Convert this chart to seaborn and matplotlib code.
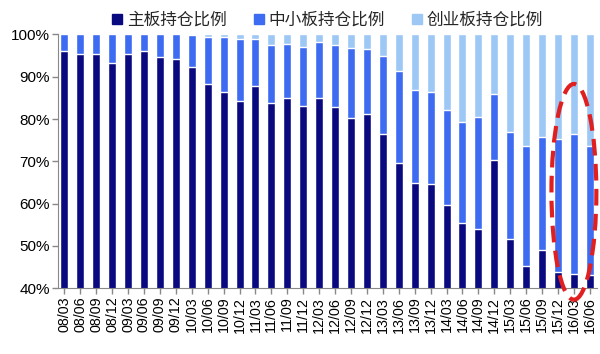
import pandas as pd
import matplotlib.pyplot as plt
import numpy as np
import seaborn as sns
from matplotlib.patches import Ellipse, Patch

quarters = ["08/03", "08/06", "08/09", "08/12", "09/03", "09/06", "09/09", "09/12",
            "10/03", "10/06", "10/09", "10/12", "11/03", "11/06", "11/09", "11/12",
            "12/03", "12/06", "12/09", "12/12", "13/03", "13/06", "13/09", "13/12",
            "14/03", "14/06", "14/09", "14/12", "15/03", "15/06", "15/09", "15/12",
            "16/03", "16/06"]
main_board = [96.2, 95.5, 95.3, 93.2, 95.5, 96.2, 94.7, 94.3, 92.3, 88.4, 86.3, 84.2,
              87.8, 83.7, 85.1, 83.2, 85.1, 82.9, 80.3, 81.2, 76.5, 69.6, 64.9, 64.7,
              59.8, 55.4, 54.0, 70.3, 51.7, 45.2, 49.0, 43.8, 43.3, 43.2]
sme_board = [3.8, 4.5, 4.7, 6.8, 4.5, 3.8, 5.3, 5.7, 7.5, 11.1, 13.2, 14.7,
             11.1, 13.8, 12.7, 13.9, 13.1, 14.6, 16.6, 15.3, 18.3, 21.7, 21.9, 21.6,
             22.4, 23.9, 26.5, 15.7, 25.3, 28.5, 26.7, 31.6, 33.1, 30.5]
chinext = [0, 0, 0, 0, 0, 0, 0, 0, 0.2, 0.5, 0.5, 1.1,
           1.1, 2.5, 2.2, 2.9, 1.8, 2.5, 3.1, 3.5, 5.2, 8.7, 13.2, 13.7,
           17.8, 20.7, 19.5, 14.0, 23.0, 26.3, 24.3, 24.6, 23.6, 26.3]
labels = ["主板持仓比例", "中小板持仓比例", "创业板持仓比例"]
colors = ["#0A0A80", "#3D6CF2", "#9DC8F6"]

df = pd.DataFrame({"q": quarters, "main": main_board, "sme": sme_board, "gem": chinext})
df["lvl1"] = df["main"]
df["lvl2"] = df["main"] + df["sme"]
df["lvl3"] = df["lvl2"] + df["gem"]

sns.set_style("white")
plt.rcParams['font.family'] = ['Liberation Sans', 'Noto Sans CJK SC', 'DejaVu Sans']

fig = plt.figure(figsize=(6, 3.54), dpi=100)
ax = fig.add_axes([58 / 600, 0.1856, 539 / 600, 0.717])

# stacked look: draw the cumulative totals from tallest to shortest
for col, c in zip(["lvl3", "lvl2", "lvl1"], colors[::-1]):
    sns.barplot(data=df, x="q", y=col, color=c, width=0.5, saturation=1, ax=ax)

ax.set_ylim(40, 100)
ax.set_xlim(-0.4, 33.45)
ax.set_yticks(np.arange(40, 101, 10))
ax.set_yticklabels([f"{v}%" for v in range(40, 101, 10)], fontsize=11)
ax.set_xticks(range(len(quarters)))
ax.set_xticklabels(quarters, rotation=90, fontsize=10.3)
ax.set_xlabel("")
ax.set_ylabel("")
for s in ["top", "right"]:
    ax.spines[s].set_visible(False)
for s in ["left", "bottom"]:
    ax.spines[s].set_color("#888888")
ax.tick_params(axis="both", colors="#888888", labelcolor="black", length=4, width=1,
               direction="out", pad=2)
ax.tick_params(axis="both", left=True, bottom=True)

handles = [Patch(facecolor=c, edgecolor=c) for c in colors]
ax.legend(handles, labels, ncol=3, frameon=False, loc="lower center",
          bbox_to_anchor=(0.5, 0.99), handlelength=0.6, handleheight=0.6,
          handletextpad=0.3, columnspacing=1.6, borderaxespad=0.1,
          prop={"family": ["Noto Sans CJK SC"], "size": 12})

ell = Ellipse((32.0, 62.8), width=2.82, height=51, fill=False, edgecolor="#E02020",
              linestyle=(0, (4, 2)), linewidth=3, clip_on=False, zorder=5)
ax.add_patch(ell)

fig.savefig("out.png", dpi=100)
